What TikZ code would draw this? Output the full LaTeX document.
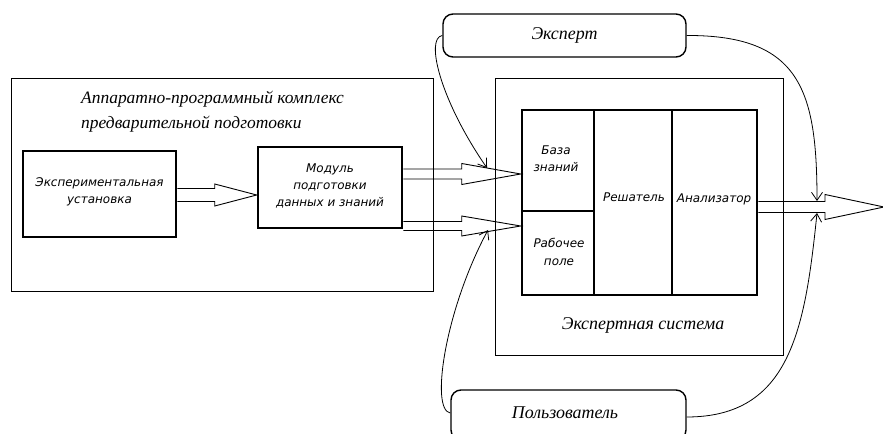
\documentclass[tikz,border=0pt]{standalone}
\usepackage{fontspec}
\setmainfont{Liberation Serif}
\newfontfamily\boxfont{DejaVu Sans}
\usetikzlibrary{arrows.meta,calc}

\tikzset{
  frame/.style={draw, line width=0.8pt, inner sep=0pt},
  unit/.style={draw, line width=2.6pt, inner sep=0pt},
  cell/.style={draw, line width=2.6pt, inner sep=0pt},
  actor/.style={draw, line width=1.4pt, rounded corners=10bp, inner sep=0pt},
  blk/.style={draw, line width=0.9pt, line join=miter},
  link/.style={line width=0.8pt, -{Straight Barb[length=8bp,width=11bp]}},
  serifit/.style={font=\fontsize{18}{25}\selectfont\itshape, inner sep=0pt},
  sansit/.style={font=\boxfont\fontsize{12}{17.5}\selectfont\itshape, align=center, inner sep=0pt},
}

% hollow block arrow: #1 start anchor, #2 tip, #3 shaft half width,
% #4 head half width, #5 head length
\newcommand\hollowarrow[5]{%
  \path ($(#2)+(0,-#3)$) coordinate (ha1) ($(#2)+(0,#3)$) coordinate (ha2);
  \draw[blk] (#1 |- ha1) -- ($(ha1)+(-#5,0)$) -- ($(#2)+(-#5,-#4)$) -- (#2)
    -- ($(#2)+(-#5,#4)$) -- ($(ha2)+(-#5,0)$) -- (#1 |- ha2);
}

\begin{document}
\begin{tikzpicture}[x=1bp,y=-1bp]
\useasboundingbox (0,0) rectangle (883,434);
\clip (0,0) rectangle (883,434);

% hardware and software complex
\node[frame, minimum width=422bp, minimum height=213bp] (hw) at (222,184.5) {};
\node[serifit, font=\fontsize{17.5}{25}\selectfont\itshape, anchor=west, align=left] (hwtitle) at (81,112)
  {Аппаратно-программный комплекс\\предварительной подготовки};
\node[unit, minimum width=153bp, minimum height=86bp] (rig) at (99.5,194) {};
\node[sansit] (rigtext) at (99.5,192) {Экспериментальная\\установка};
\node[unit, minimum width=144bp, minimum height=81bp] (mod) at (330,187.5) {};
\node[sansit] (modtext) at (330,186) {Модуль\\подготовки\\данных и знаний};

% expert system
\node[frame, minimum width=288bp, minimum height=277bp] (es) at (639,216.5) {};
\node[serifit] (estitle) at (643,325) {Экспертная система};
\node[cell, minimum width=72bp, minimum height=101bp] (kb) at (558,160.5) {};
\node[cell, minimum width=72bp, minimum height=84bp] (wf) at (558,253) {};
\node[cell, minimum width=78bp, minimum height=185bp] (sol) at (633,202.5) {};
\node[cell, minimum width=85bp, minimum height=185bp] (ana) at (714.5,202.5) {};
\node[sansit] (kbtext) at (556,159) {База\\знаний};
\node[sansit] (wftext) at (559,252) {Рабочее\\поле};
\node[sansit] (soltext) at (634,197) {Решатель};
\node[sansit] (anatext) at (714,199) {Анализатор};

% actors
\node[actor, minimum width=243bp, minimum height=43bp, serifit] (expert) at (564.5,35.5) {Эксперт};
\node[actor, minimum width=235bp, minimum height=50bp] (user) at (568.5,415) {};
\node[serifit] (usertext) at (565,413) {Пользователь};

% data flows
\coordinate (rigin) at ($(mod.west)+(0,7.5)$);
\coordinate (kbin) at ($(kb.west)+(0,13.5)$);
\coordinate (wfin) at ($(wf.west)+(0,-27)$);
\coordinate (out) at (884,207);
\hollowarrow{rig.east}{rigin}{6.5}{11}{42}
\hollowarrow{mod.east}{kbin}{5}{10.5}{59}
\hollowarrow{mod.east}{wfin}{4.5}{10}{59}
\hollowarrow{ana.east}{out}{5.5}{12.5}{59}

% influence of the actors
\coordinate (expin) at (487,168);
\coordinate (expout) at (817,201);
\coordinate (usrin) at (488,230);
\coordinate (usrout) at (817,213);
\draw[link] (expert.west) .. controls (425,38) and (440,100) .. (expin);
\draw[link] (expert.east) .. controls (800,35) and (817,90) .. (expout);
\draw[link] (user.west |- usertext) .. controls (430,410) and (445,310) .. (usrin);
\draw[link] (user.east |- 0,417) .. controls (790,417) and (805,330) .. (usrout);
\end{tikzpicture}
\end{document}
